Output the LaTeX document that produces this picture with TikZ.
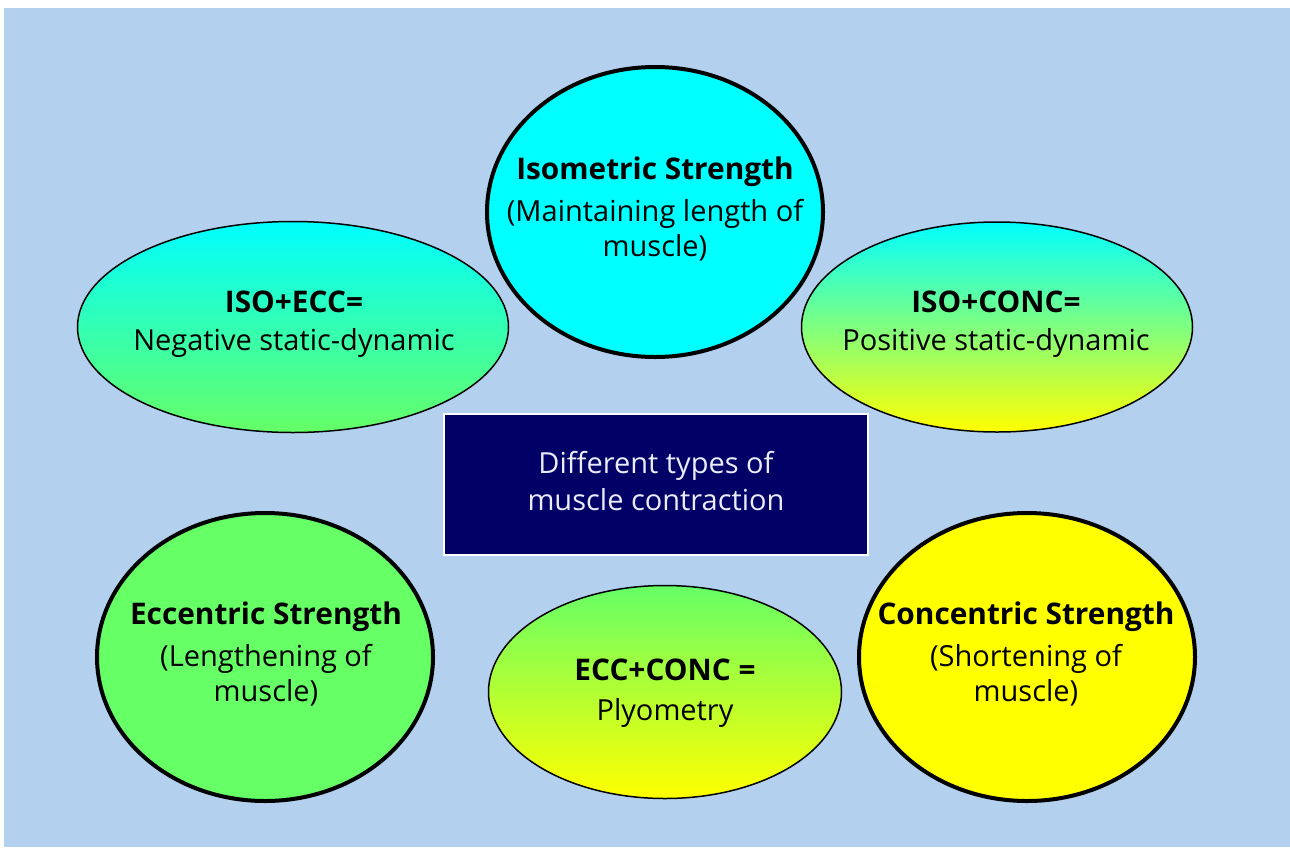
\documentclass[tikz,border=0pt]{standalone}
\usepackage{fontspec}
\setmainfont{Open Sans}
\usetikzlibrary{shapes.geometric}
\definecolor{bg}{RGB}{179,209,238}
\definecolor{cy}{RGB}{0,255,255}
\definecolor{gr}{RGB}{102,255,102}
\definecolor{ye}{RGB}{255,255,0}
\definecolor{navy}{RGB}{0,0,102}
\definecolor{wt}{RGB}{235,235,250}
\newcommand{\hd}[1]{{\fontsize{29.8}{35}\selectfont\bfseries #1}}
\tikzset{
  bigcirc/.style={ellipse, draw=black, line width=4pt, inner sep=0pt,
    minimum width=336pt, minimum height=288pt},
  smallell/.style={ellipse, draw=black, line width=1.5pt, inner sep=0pt},
  txt/.style={inner sep=0pt, align=center, font=\fontsize{29}{35}\selectfont},
  centerbox/.style={rectangle, draw=white, line width=1.5pt, fill=navy,
    inner sep=0pt, minimum width=424pt, minimum height=141pt}
}
\begin{document}
\begin{tikzpicture}[x=1pt,y=-1pt]
\useasboundingbox (0,0) rectangle (1290,847);
\fill[bg] (4,8) rectangle (1290,847);
% ellipses
\node[smallell, minimum width=431pt, minimum height=211pt, top color=cy, bottom color=gr]
  (isoecc) at (293,327) {};
\node[txt, font=\fontsize{29}{38}\selectfont] (isoecct) at (294,324) {\hd{ISO+ECC=}\\Negative static-dynamic};
\node[smallell, minimum width=391pt, minimum height=210pt, top color=cy, bottom color=ye]
  (isoconc) at (997,327) {};
\node[txt, font=\fontsize{29}{38}\selectfont] (isoconct) at (996,324) {\hd{ISO+CONC=}\\Positive static-dynamic};
\node[smallell, minimum width=353pt, minimum height=213pt, top color=gr, bottom color=ye]
  (eccconc) at (665,692) {};
\node[txt, font=\fontsize{29}{40}\selectfont] (eccconct) at (665,693) {\hd{ECC+CONC =}\\Plyometry};
% circles
\node[bigcirc, fill=cy, minimum height=290pt] (iso) at (655,212) {};
\node[txt] (isot) at (655,209)
  {\hd{Isometric Strength}\\[7pt](Maintaining length of\\muscle)};
\node[bigcirc, fill=gr] (ecc) at (265,657) {};
\node[txt] (ecct) at (266,654)
  {\hd{Eccentric Strength}\\[7pt](Lengthening of\\muscle)};
\node[bigcirc, fill=ye] (conc) at (1027,657) {};
\node[txt] (conct) at (1026,654)
  {\hd{Concentric Strength}\\[7pt](Shortening of\\muscle)};
% centre box
\node[centerbox] (center) at (656,484.5) {};
\node[txt, text=wt, font=\fontsize{29}{37}\selectfont] (centert) at (656,481)
  {Different types of\\muscle contraction};
\end{tikzpicture}
\end{document}
